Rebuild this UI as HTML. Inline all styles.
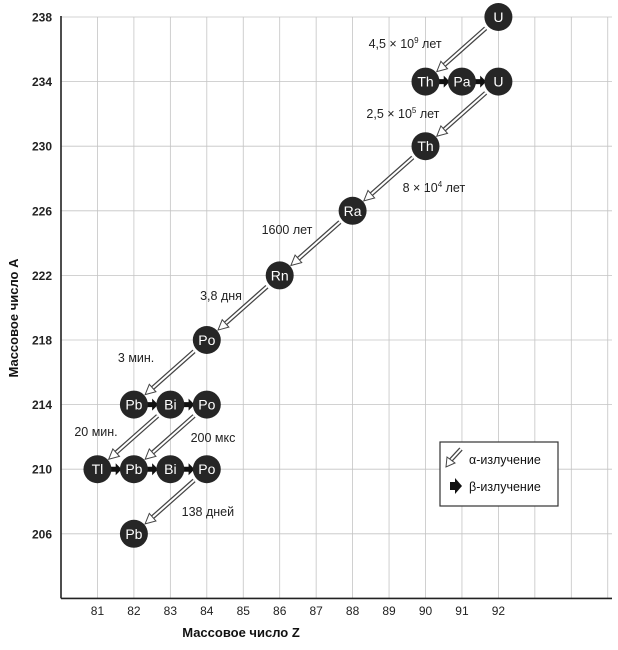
<!DOCTYPE html>
<html><head><meta charset="utf-8">
<style>
body{margin:0;background:#fff;}
svg{display:block;font-family:"Liberation Sans","DejaVu Sans",sans-serif;}
</style></head>
<body>
<svg id="chart" width="618" height="650" viewBox="0 0 618 650" xmlns="http://www.w3.org/2000/svg">
<g id="grid"></g>
<g id="axes"></g>
<g id="arrows"></g>
<g id="nodes"></g>
<g id="labels"></g>
<text x="0" y="0" transform="translate(18,318) rotate(-90)" text-anchor="middle" font-size="13" font-weight="bold" fill="#111">Массовое число A</text>
<text x="241" y="637" text-anchor="middle" font-size="13" font-weight="bold" fill="#111">Массовое число Z</text>
<g>
  <rect x="440" y="442" width="118" height="64" fill="#fff" stroke="#333" stroke-width="1.2"/>
  <g>
    <line x1="461" y1="449" x2="449" y2="462" stroke="#444" stroke-width="4.5"/>
    <line x1="461" y1="449" x2="449" y2="462" stroke="#fff" stroke-width="2"/>
    <polygon points="446,467 447,457 455,463" fill="#fff" stroke="#444" stroke-width="1"/>
  </g>
  <text x="469" y="464" font-size="12.5" fill="#111">α-излучение</text>
  <polygon points="450,482 455,482 455,478 462,486 455,494 455,490 450,490" fill="#111"/>
  <text x="469" y="491" font-size="12.5" fill="#111">β-излучение</text>
</g>
</svg>
<script>
const zTicks=[81,82,83,84,85,86,87,88,89,90,91,92];
const aTicks=[238,234,230,226,222,218,214,210,206];
const nuclideSymbols=["U","Th","Pa","U","Th","Ra","Rn","Po","Pb","Bi","Po","Tl","Pb","Bi","Po","Pb"];
const nuclideZ=[92,90,91,92,90,88,86,84,82,83,84,81,82,83,84,82];
const nuclideA=[238,234,234,234,230,226,222,218,214,214,214,210,210,210,210,206];
const alphaFrom=[0,3,4,5,6,7,9,10,14];
const alphaTo=[1,4,5,6,7,8,11,12,15];
const betaFrom=[1,2,8,9,11,12,13];
const betaTo=[2,3,9,10,12,13,14];
const halfLifeLabels=["4,5 × 10","2,5 × 10","8 × 10","1600 лет","3,8 дня","3 мин.","20 мин.","200 мкс","138 дней"];
const halfLifeSup=["9","5","4","","","","","",""];
const halfLifeSuffix=[" лет"," лет"," лет","","","","","",""];
const labelZ=[89.44,89.38,90.23,86.2,84.39,82.06,80.96,84.17,84.03];
const labelA=[236.08,231.75,227.16,224.56,220.48,216.64,212.06,211.68,207.1];

const X0=61,PX=36.45,Y0=17,PY=16.15;
const x=z=>X0+(z-80)*PX;
const y=a=>Y0+(238-a)*PY;
const NS='http://www.w3.org/2000/svg';
function mk(tag,attrs,parent){const e=document.createElementNS(NS,tag);for(const k in attrs)e.setAttribute(k,attrs[k]);parent.appendChild(e);return e;}
const grid=document.getElementById('grid'),axes=document.getElementById('axes'),arrows=document.getElementById('arrows'),nodes=document.getElementById('nodes'),labels=document.getElementById('labels');

for(let z=81;z<=95;z++){const l=mk('line',{x1:x(z),y1:y(238),x2:x(z),y2:y(202),stroke:'#c4c4c4','stroke-width':0.8},grid);

}
for(let a=238;a>202;a-=4){const l=mk('line',{x1:x(80),y1:y(a),x2:612,y2:y(a),stroke:'#c4c4c4','stroke-width':0.8},grid);

}
const ya=mk('line',{x1:x(80),y1:y(238)-1,x2:x(80),y2:y(202),stroke:'#222','stroke-width':1.6},axes);


const xa=mk('line',{x1:x(80),y1:y(202),x2:612,y2:y(202),stroke:'#222','stroke-width':1.6},axes);


zTicks.forEach(z=>{const t=mk('text',{x:x(z),y:615,'text-anchor':'middle','font-size':12,fill:'#222'},axes);t.textContent=z;

});
aTicks.forEach(a=>{const t=mk('text',{x:52,y:y(a)+4.5,'text-anchor':'end','font-size':12,'font-weight':'bold',fill:'#222'},axes);t.textContent=a;

});

const R=14;
alphaFrom.forEach((f,i)=>{const t=alphaTo[i];
const x1=x(nuclideZ[f]),y1=y(nuclideA[f]),x2=x(nuclideZ[t]),y2=y(nuclideA[t]);
const dx=x2-x1,dy=y2-y1,L=Math.hypot(dx,dy),ux=dx/L,uy=dy/L;
const sx=x1+ux*(R+3),sy=y1+uy*(R+3),ex=x2-ux*(R+1),ey=y2-uy*(R+1);
const hx=ex-ux*10,hy=ey-uy*10,px=-uy,py=ux;
const g=mk('g',{},arrows);


mk('line',{x1:sx,y1:sy,x2:hx,y2:hy,stroke:'#444','stroke-width':4.5},g);
mk('line',{x1:sx,y1:sy,x2:hx+ux*2,y2:hy+uy*2,stroke:'#fff','stroke-width':2},g);
mk('polygon',{points:`${ex},${ey} ${hx+px*5},${hy+py*5} ${hx-px*5},${hy-py*5}`,fill:'#fff',stroke:'#444','stroke-width':1},g);});

betaFrom.forEach((f,i)=>{const t=betaTo[i];
const cx=(x(nuclideZ[f])+x(nuclideZ[t]))/2,cy=y(nuclideA[f]);
const p=mk('polygon',{points:`${cx-5},${cy-2.5} ${cx},${cy-2.5} ${cx},${cy-6} ${cx+6},${cy} ${cx},${cy+6} ${cx},${cy+2.5} ${cx-5},${cy+2.5}`,fill:'#111'},arrows);

});

nuclideSymbols.forEach((s,i)=>{const g=mk('g',{},nodes);


mk('circle',{cx:x(nuclideZ[i]),cy:y(nuclideA[i]),r:R,fill:'#262626'},g);
const t=mk('text',{x:x(nuclideZ[i]),y:y(nuclideA[i])+5,'text-anchor':'middle','font-size':14,fill:'#fff'},g);t.textContent=s;});

halfLifeLabels.forEach((s,i)=>{const t=mk('text',{x:x(labelZ[i]),y:y(labelA[i]),'text-anchor':'middle','font-size':12.5,fill:'#222'},labels);


t.appendChild(document.createTextNode(s));
if(halfLifeSup[i]){const sp=mk('tspan',{'font-size':8,dy:-5},t);sp.textContent=halfLifeSup[i];
const sp2=mk('tspan',{dy:5},t);sp2.textContent=halfLifeSuffix[i];}});
</script>
</body></html>
